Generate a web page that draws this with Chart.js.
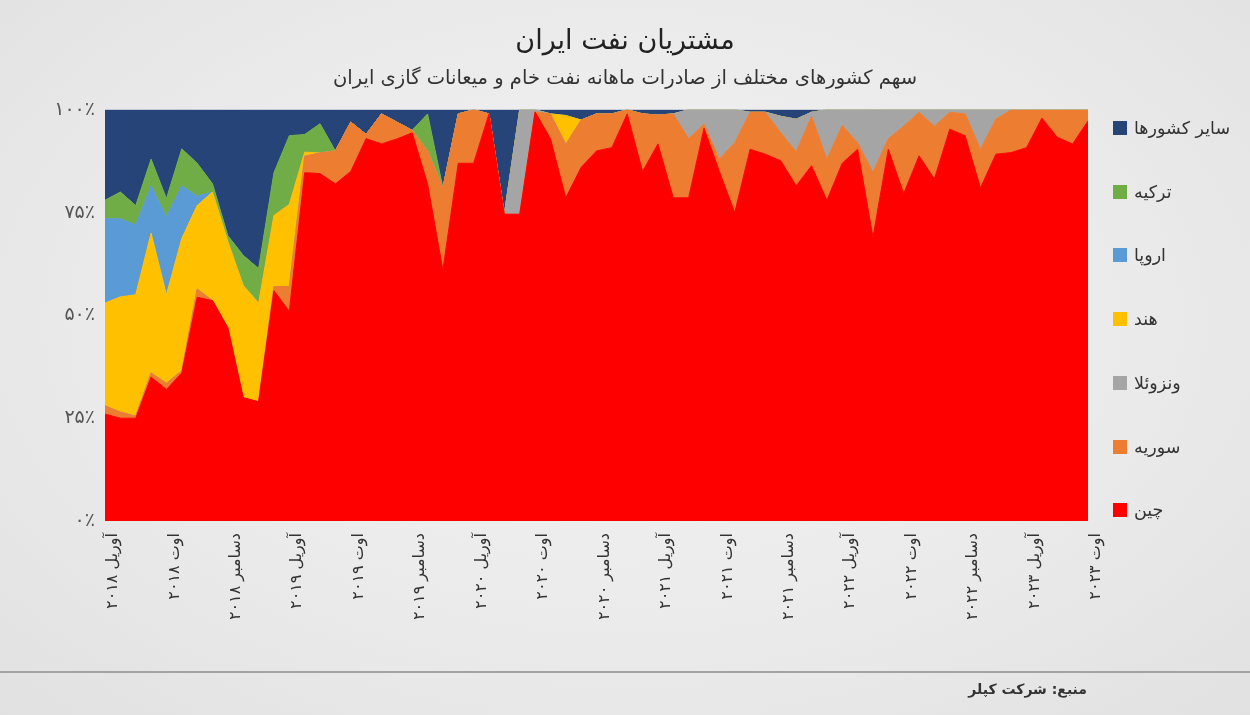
<!DOCTYPE html>
<html lang="fa">
<head>
<meta charset="utf-8">
<title>مشتریان نفت ایران</title>
<script src="https://cdn.jsdelivr.net/npm/chart.js@4.4.1/dist/chart.umd.min.js"></script>
<style>
  html, body { margin: 0; padding: 0; }
  body {
    width: 1250px; height: 715px; overflow: hidden; position: relative;
    background: radial-gradient(ellipse at 50% 45%, #f3f3f3 0%, #eaeaea 60%, #e1e1e1 100%);
    font-family: "DejaVu Sans", sans-serif;
  }
  #chart { position: absolute; left: 0; top: 0; }
  #legend { position: absolute; left: 1113px; top: 0; margin: 0; padding: 0; list-style: none; }
  #legend li { position: absolute; left: 0; display: flex; align-items: center; white-space: nowrap; font-size: 17.5px; color: #333; height: 20px; }
  #legend .box { width: 14px; height: 14px; margin-right: 7px; flex: none; }
  .footer-line { position: absolute; left: 0; right: 0; top: 671px; border-top: 2px solid #a3a3a3; }
  .source { position: absolute; right: 163px; top: 681px; font-size: 14px; font-weight: bold; color: #333; direction: rtl; }
</style>
</head>
<body>
<canvas id="chart" width="1250" height="715"></canvas>
<ul id="legend"></ul>
<div class="footer-line"></div>
<div class="source">منبع: شرکت کپلر</div>
<script>
// سهم ماهانه هر کشور (درصد)، آوریل ۲۰۱۸ تا اوت ۲۰۲۳
const china = [26, 25, 25, 35, 32, 36, 54.4, 53.6, 47, 30, 29, 56, 51, 84.7, 84.5, 82, 85, 93, 91.7, 92.9,
  94.4, 82, 61, 87, 87, 99, 74.6, 74.6, 99.5, 93, 78.6, 86, 90, 90.8, 99, 85, 91.7, 78.6, 78.6, 95.5,
  85, 75, 90.4, 89.2, 87.6, 81.5, 86.4, 78, 87, 90.4, 69, 90.4, 79.6, 88.8, 83.2, 95.3, 93.7, 81, 89.2, 89.6,
  90.8, 98, 93.3, 91.7, 97.3];
const syria = [2, 1.5, 0.5, 1, 1.5, 0.5, 2, 0, 0, 0, 0, 1, 6, 4, 5, 8, 12, 1, 7.3, 4.1,
  0.6, 8, 20, 12, 13, 0, 0, 0, 0, 6, 13, 11.5, 9, 8.2, 1, 14, 7, 20.4, 14.4, 1,
  3, 17, 9, 10.2, 6.8, 8.3, 12, 10, 9.2, 1.6, 15.8, 2.6, 16.4, 10.6, 12.8, 4.1, 5.3, 9.4, 8.5, 10.4,
  9.2, 2, 6.7, 8.3, 2.7];
const venezuela = [0, 0, 0, 0, 0, 0, 0, 0, 0, 0, 0, 0, 0, 0, 0, 0, 0, 0, 0, 0,
  0, 0, 0, 0, 0, 0, 0, 25.4, 0.5, 0, 0, 0, 0, 0, 0, 0, 0, 0, 7, 3.5,
  12, 8, 0, 0, 4, 7.9, 1, 12, 3.8, 8, 15.2, 7, 4, 0.6, 4, 0.6, 1, 9.6, 2.3, 0,
  0, 0, 0, 0, 0];
const india = [25, 28, 29.5, 34, 21.5, 32.2, 20.3, 26.4, 21, 27.3, 24, 17.3, 20, 1, 0, 0, 0, 0, 0, 0,
  0, 0, 0, 0, 0, 0, 0, 0, 0, 0, 7, 0, 0, 0, 0, 0, 0, 0, 0, 0,
  0, 0, 0, 0, 0, 0, 0, 0, 0, 0, 0, 0, 0, 0, 0, 0, 0, 0, 0, 0,
  0, 0, 0, 0, 0];
const europe = [20.5, 19, 17, 11.5, 19, 12.8, 2.3, 0, 0, 0, 0, 0, 0, 0, 0, 0, 0, 0, 0, 0,
  0, 0, 0, 0, 0, 0, 0, 0, 0, 0, 0, 0, 0, 0, 0, 0, 0, 0, 0, 0,
  0, 0, 0, 0, 0, 0, 0, 0, 0, 0, 0, 0, 0, 0, 0, 0, 0, 0, 0, 0,
  0, 0, 0, 0, 0];
const turkey = [4.5, 6.5, 4.7, 6.5, 4.4, 9, 8, 2, 1.4, 7.3, 8.4, 10.4, 16.7, 4.3, 7.1, 0, 0, 0, 0, 0,
  0, 9, 0, 0, 0, 0, 0, 0, 0, 0, 0, 0, 0, 0, 0, 0, 0, 0, 0, 0,
  0, 0, 0, 0, 0, 0, 0, 0, 0, 0, 0, 0, 0, 0, 0, 0, 0, 0, 0, 0,
  0, 0, 0, 0, 0];
const others = [22, 20, 23.3, 12, 21.6, 9.5, 13, 18, 30.6, 35.4, 38.6, 15.3, 6.3, 6, 3.4, 10, 3, 6, 1, 3,
  5, 1, 19, 1, 0, 1, 25.4, 0, 0, 1, 1.4, 2.5, 1, 1, 0, 1, 1.3, 1, 0, 0,
  0, 0, 0.6, 0.6, 1.6, 2.3, 0.6, 0, 0, 0, 0, 0, 0, 0, 0, 0, 0, 0, 0, 0,
  0, 0, 0, 0, 0];

const seriesNames = ['چین', 'سوریه', 'ونزوئلا', 'هند', 'اروپا', 'ترکیه', 'سایر کشورها'];
const seriesColors = ['#ff0000', '#ed7d31', '#a5a5a5', '#ffc000', '#5b9bd5', '#70ad47', '#264478'];
const seriesData = [china, syria, venezuela, india, europe, turkey, others];

const monthNames = ['ژانویه', 'فوریه', 'مارس', 'آوریل', 'مه', 'ژوئن', 'ژوئیه', 'اوت', 'سپتامبر', 'اکتبر', 'نوامبر', 'دسامبر'];
const tickLabels = ['آوریل ۲۰۱۸', 'اوت ۲۰۱۸', 'دسامبر ۲۰۱۸', 'آوریل ۲۰۱۹', 'اوت ۲۰۱۹', 'دسامبر ۲۰۱۹',
  'آوریل ۲۰۲۰', 'اوت ۲۰۲۰', 'دسامبر ۲۰۲۰', 'آوریل ۲۰۲۱', 'اوت ۲۰۲۱', 'دسامبر ۲۰۲۱',
  'آوریل ۲۰۲۲', 'اوت ۲۰۲۲', 'دسامبر ۲۰۲۲', 'آوریل ۲۰۲۳', 'اوت ۲۰۲۳'];
const yTickLabels = ['۰٪', '۲۵٪', '۵۰٪', '۷۵٪', '۱۰۰٪'];

// برچسب ماه‌ها (آوریل ۲۰۱۸ تا اوت ۲۰۲۳)
const categories = [];
for (let i = 0; i < china.length; i++) {
  const m = (3 + i) % 12;
  const y = 2018 + Math.floor((3 + i) / 12);
  categories.push(monthNames[m] + ' ' + y);
}

const font = '"DejaVu Sans", sans-serif';

const datasets = seriesData.map((d, i) => ({
  label: seriesNames[i],
  data: d,
  backgroundColor: seriesColors[i],
  borderColor: seriesColors[i],
  borderWidth: 1,
  pointRadius: 0,
  tension: 0,
  fill: i === 0 ? 'origin' : '-1'
}));

new Chart(document.getElementById('chart'), {
  type: 'line',
  data: { labels: categories, datasets: datasets },
  options: {
    responsive: false,
    animation: false,
    layout: { padding: 0 },
    plugins: {
      legend: { display: false },
      tooltip: { enabled: false },
      title: {
        display: true,
        text: 'مشتریان نفت ایران',
        color: '#222',
        font: { family: font, size: 27, weight: 'normal' },
        padding: { top: 26, bottom: 9 }
      },
      subtitle: {
        display: true,
        text: 'سهم کشورهای مختلف از صادرات ماهانه نفت خام و میعانات گازی ایران',
        color: '#333',
        font: { family: font, size: 19.5 },
        padding: { top: 0, bottom: 19 }
      }
    },
    scales: {
      x: {
        grid: { display: false, drawTicks: false },
        border: { display: false },
        afterFit: s => { s.height = 194; },
        ticks: {
          autoSkip: false,
          minRotation: 90,
          maxRotation: 90,
          padding: 12,
          labelOffset: 8,
          color: '#333',
          font: { family: font, size: 16 },
          callback: (v, i) => (i % 4 === 0 ? tickLabels[i / 4] : '')
        }
      },
      y: {
        stacked: true,
        min: 0,
        max: 100,
        grid: { display: false, drawTicks: false },
        border: { display: false },
        afterFit: s => { s.width = 105; },
        ticks: {
          stepSize: 25,
          padding: 10,
          color: '#555',
          font: { family: font, size: 19 },
          callback: v => yTickLabels[v / 25]
        }
      },
      // فضای خالی سمت راست برای راهنما
      side: {
        position: 'right',
        grid: { display: false, drawTicks: false },
        border: { display: false },
        ticks: { display: false },
        afterFit: s => { s.width = 162; }
      }
    }
  }
});

// راهنما در سمت راست (از بالا به پایین)
const legend = document.getElementById('legend');
for (let k = 0; k < seriesNames.length; k++) {
  const i = seriesNames.length - 1 - k;
  const li = document.createElement('li');
  li.style.top = (118 + k * 63.7) + 'px';
  li.innerHTML = '<span class="box" style="background:' + seriesColors[i] + '"></span><span>' + seriesNames[i] + '</span>';
  legend.appendChild(li);
}
</script>
</body>
</html>
